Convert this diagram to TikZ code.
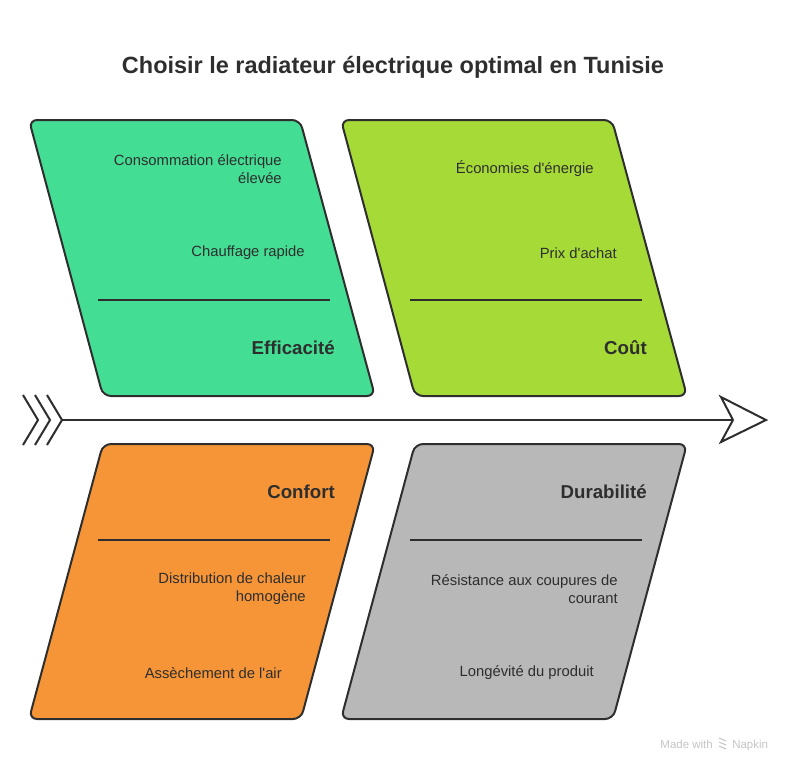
\documentclass[tikz,border=0pt]{standalone}
\usepackage{fontspec}
\setmainfont{Liberation Sans}
\usepackage{tikz}

\definecolor{efficace}{HTML}{44DD94}
\definecolor{cout}{HTML}{A6DB37}
\definecolor{confort}{HTML}{F69537}
\definecolor{durable}{HTML}{B8B8B8}
\definecolor{ink}{HTML}{2E2E2E}
\definecolor{wmgray}{HTML}{C4C4C4}

\tikzset{
  panel/.style={draw=ink, line width=1.5pt, rounded corners=6pt},
  bar/.style={draw=ink, line width=1.5pt},
  item/.style={text=ink, font=\fontsize{11.1}{13.5}\selectfont, align=right, anchor=east, inner sep=0pt},
  head/.style={text=ink, font=\bfseries\fontsize{14}{16}\selectfont, anchor=east, inner sep=0pt},
}

\begin{document}
\begin{tikzpicture}[x=0.75pt,y=-0.75pt]
\useasboundingbox (0,0) rectangle (790,769);

\node (title) at (393,67) [text=ink, font=\bfseries\fontsize{17.6}{20}\selectfont]{Choisir le radiateur électrique optimal en Tunisie};

% panels
\draw [panel, fill=efficace] (29,120) -- (300,120) -- (375,396) -- (103,396) -- cycle;
\draw [panel, fill=cout] (341,120) -- (612,120) -- (687,396) -- (415,396) -- cycle;
\draw [panel, fill=confort] (103,444) -- (375,444) -- (301,719) -- (29,719) -- cycle;
\draw [panel, fill=durable] (415,444) -- (687,444) -- (613,719) -- (341,719) -- cycle;

% dividers
\draw [bar] (98,300) -- (330,300);
\draw [bar] (410,300) -- (642,300);
\draw [bar] (98,540) -- (330,540);
\draw [bar] (410,540) -- (642,540);

% Efficacite
\node (conso) at (282,169) [item]{Consommation électrique\\élevée};
\node (rapide) at (305,253) [item]{Chauffage rapide};
\node (efficacite) at (335,348) [head]{Efficacité};

% Cout
\node (economie) at (594,169) [item]{Économies d\textquotesingle énergie};
\node (prix) at (617,253) [item]{Prix d\textquotesingle achat};
\node (coutlbl) at (647,348) [head]{Coût};

% Confort
\node (confortlbl) at (335,492) [head]{Confort};
\node (distrib) at (306,589) [item]{Distribution de chaleur\\homogène};
\node (air) at (282,673) [item]{Assèchement de l\textquotesingle air};

% Durabilite
\node (durablelbl) at (647,492) [head]{Durabilité};
\node (coupure) at (618,589) [item]{Résistance aux coupures de\\courant};
\node (longevite) at (594,673) [item]{Longévité du produit};

% spine
\coordinate (tail) at (62,420);
\coordinate (tip) at (733,420);
\draw [bar, line join=miter] (23,395) -- (38,420) -- (23,445);
\draw [bar, line join=miter] (35,395) -- (50,420) -- (35,445);
\draw [bar, line join=miter] (47,395) -- (62,420) -- (47,445);
\draw [bar] (tail) -- (tip);
\draw [bar, fill=white, line join=miter] (721,397) -- (766,420) -- (721,442) -- (tip) -- cycle;

% watermark
\node (made) at (713,748) [anchor=base east, inner sep=0pt, text=wmgray, font=\fontsize{8.6}{10}\selectfont]{Made with};
\draw [wmgray, line width=0.8pt] (719,738) -- (726,741) (719,742) -- (726,745) (719,746) -- (726,749);
\node (napkin) at (732,748) [anchor=base west, inner sep=0pt, text=wmgray, font=\fontsize{8.6}{10}\selectfont]{Napkin};
\end{tikzpicture}
\end{document}
